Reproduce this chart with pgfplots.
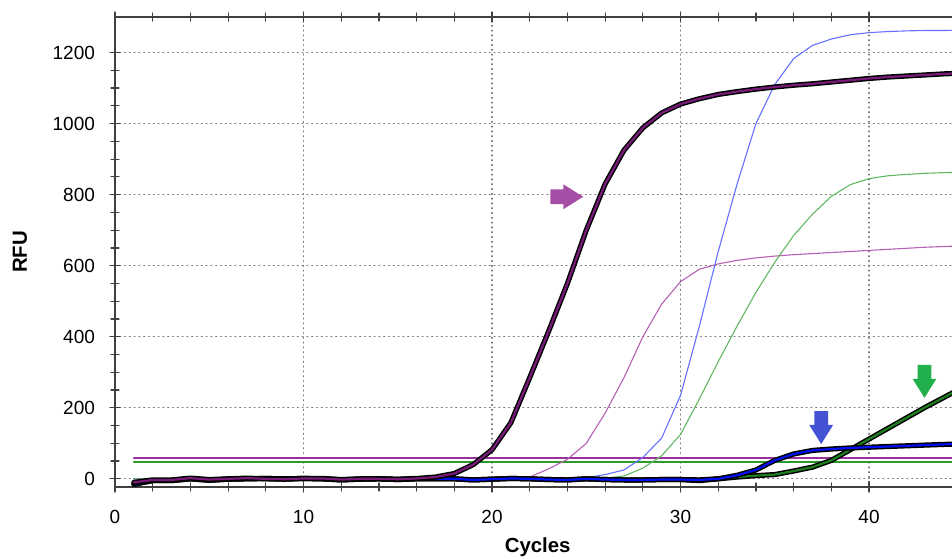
\documentclass[border=0pt]{standalone}
\usepackage{fontspec}
\setmainfont{Liberation Sans}
\usepackage{pgfplots}
\pgfplotsset{compat=1.18}
\usepackage{pgfplotstable}
\usetikzlibrary{shapes.arrows}

\definecolor{thickpurple}{HTML}{7A1A7A}
\definecolor{thinpurple}{HTML}{B660B6}
\definecolor{thinblue}{HTML}{6670FF}
\definecolor{thingreen}{HTML}{62B862}
\definecolor{thickblue}{HTML}{0010F0}
\definecolor{thickgreen}{HTML}{1E7F1E}
\definecolor{thrpurple}{HTML}{993399}
\definecolor{thrgreen}{HTML}{2E9A2E}
\definecolor{arrpurple}{HTML}{A64DA6}
\definecolor{arrblue}{HTML}{4352D2}
\definecolor{arrgreen}{HTML}{21B04B}

\tikzset{arr/.style={single arrow, draw=none, minimum height=16.5pt, inner sep=3.5pt,
        single arrow head extend=2.5pt, single arrow tip angle=64}}

% cycle, thick purple, thin purple, thin blue, thin green, thick blue, thick green
\pgfplotstableread{
c   tp    sp    sb    sg    tb    tg
1   -10   0     0     0     -15   -15
2   -3    0     0     0     -5    -5
3   -3    0     0     0     -5    -5
4   2     0     0     0     0     0
5   -2    0     0     0     -4    -4
6   0     0     0     0     -1    -1
7   2     0     0     0     0     0
8   0     0     0     0     1     1
9   -1    0     0     0     0     0
10  1     0     0     0     1     1
11  1     0     0     0     0     0
12  -2    0     0     0     -3    -3
13  0     0     0     0     -1    -1
14  0     0     0     0     0     0
15  -1    0     0     0     -2    -2
16  1     0     0     0     0     0
17  5     0     0     0     0     0
18  15    0     0     0     0     0
19  40    0     0     0     -3    -3
20  82    0     0     0     -1    -1
21  158   0     0     0     1     1
22  285   5     0     0     0     0
23  415   28    0     0     -2    -2
24  550   55    0     0     -3    -3
25  700   100   3     0     0     0
26  830   185   12    2     -2    -2
27  925   285   25    8     -3    -3
28  988   400   60    30    -3    -3
29  1030  492   115   65    -2    -2
30  1055  555   235   125   -2    -2
31  1070  590   430   225   -3    -5
32  1082  605   640   330   0     0
33  1090  615   830   430   10    5
34  1097  622   1000  525   25    9
35  1103  627   1110  610   52    12
36  1108  631   1183  685   70    22
37  1112  634   1220  745   80    33
38  1117  637   1238  795   84    52
39  1122  640   1250  828   87    82
40  1127  643   1256  845   89    112
41  1131  646   1259  853   91    142
42  1134  649   1261  857   93    172
43  1137  652   1262  860   95    202
44  1140  654   1262  862   97    230
45  1142  656   1263  863   98    258
}\rfu

\begin{document}
\begin{tikzpicture}
\begin{axis}[
    name=ax,
    scale only axis,
    width=418.5pt, height=235pt,
    xmin=0, xmax=44.4, ymin=-23, ymax=1300,
    xtick={0,10,...,40}, minor x tick num=4,
    ytick={0,200,...,1200}, minor y tick num=3,
    axis x line*=box, axis y line*=left,
    x axis line style={-}, y axis line style={-},
    axis line style={black!75, line width=0.6pt},
    grid=major, grid style={dotted, black!55, line width=0.6pt},
    tick align=center,
    major tick length=5pt, minor tick length=4pt,
    every tick/.style={black!75, line width=0.6pt},
    ticklabel style={font=\fontsize{9.5}{11}\selectfont},
    xticklabel style={yshift=-5.5pt},
    yticklabel style={xshift=-4pt},
    /pgf/number format/assume math mode=true,
    /pgf/number format/1000 sep={},
    xlabel={Cycles}, ylabel={RFU},
    every axis x label/.style={at={(axis description cs:0.505,-0.128)}, anchor=center,
        font=\fontsize{10.2}{12}\selectfont\bfseries},
    every axis y label/.style={at={(axis description cs:-0.1135,0.5)}, rotate=90, anchor=center,
        font=\fontsize{10.2}{12}\selectfont\bfseries},
    line join=round, line cap=round,
]
% threshold lines
\addplot[thrpurple, line width=0.9pt] coordinates {(1,59) (45,59)};
\addplot[thrgreen, line width=0.9pt] coordinates {(1,48) (45,48)};
% thin curves
\addplot[thinpurple, line width=0.55pt] table[x=c, y=sp] {\rfu};
\addplot[thinblue, line width=0.55pt] table[x=c, y=sb] {\rfu};
\addplot[thingreen, line width=0.55pt] table[x=c, y=sg] {\rfu};
% thick outlined curves
\addplot[black, line width=2.6pt] table[x=c, y=tg] {\rfu};
\addplot[thickgreen, line width=1.1pt] table[x=c, y=tg] {\rfu};
\addplot[black, line width=2.6pt] table[x=c, y=tb] {\rfu};
\addplot[thickblue, line width=1.1pt] table[x=c, y=tb] {\rfu};
\addplot[black, line width=2.6pt] table[x=c, y=tp] {\rfu};
\addplot[thickpurple, line width=1.1pt] table[x=c, y=tp] {\rfu};
% arrows
\node[arr, fill=arrpurple] at (axis cs:23.65,794) {};
\node[arr, fill=arrblue, inner sep=3.25pt, shape border rotate=270] at (axis cs:37.46,160) {};
\node[arr, fill=arrgreen, inner sep=3.25pt, shape border rotate=270] at (axis cs:42.94,290) {};
\end{axis}
\pgfresetboundingbox
\path[use as bounding box] ([xshift=-57.5pt,yshift=-35.5pt]ax.south west) rectangle ([yshift=8.5pt]ax.north east);
\end{tikzpicture}
\end{document}
